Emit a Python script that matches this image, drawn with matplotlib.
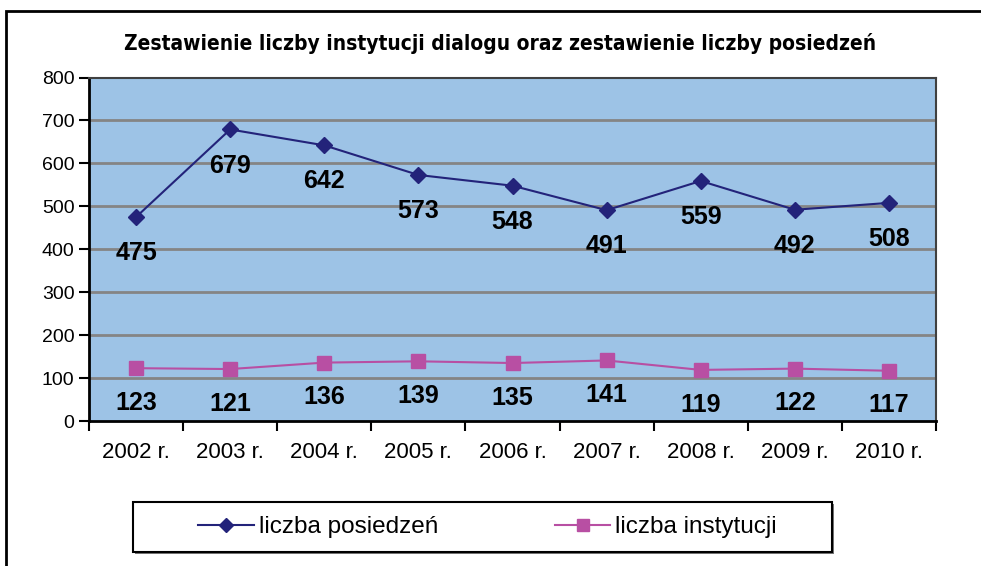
import matplotlib
matplotlib.use("Agg")
import matplotlib.pyplot as plt
from matplotlib.patches import Rectangle
from matplotlib.lines import Line2D

lata = ["2002 r.", "2003 r.", "2004 r.", "2005 r.", "2006 r.",
        "2007 r.", "2008 r.", "2009 r.", "2010 r."]
posiedzenia = [475, 679, 642, 573, 548, 491, 559, 492, 508]
instytucje = [123, 121, 136, 139, 135, 141, 119, 122, 117]

navy = "#23237a"
magenta = "#b84fa3"
W, H = 981, 566

plt.rcParams['font.family'] = ['Liberation Sans', 'DejaVu Sans']

fig = plt.figure(figsize=(W / 100, H / 100), dpi=100)
ax = fig.add_axes([89 / W, 1 - 421 / H, (936 - 89) / W, (421 - 77.5) / H])
ax.set_facecolor("#9dc3e6")

x = list(range(len(lata)))
ax.plot(x, posiedzenia, color=navy, lw=1.5, marker="D", ms=8, zorder=3)
ax.plot(x, instytucje, color=magenta, lw=1.5, marker="s", ms=9.5, zorder=3)

for xi, v in zip(x, posiedzenia):
    ax.annotate(str(v), (xi, v), xytext=(0, -26), textcoords="offset points",
                ha="center", va="center", fontsize=18, fontweight="bold")
for xi, v in zip(x, instytucje):
    ax.annotate(str(v), (xi, v), xytext=(0, -25), textcoords="offset points",
                ha="center", va="center", fontsize=18, fontweight="bold")

ax.set_ylim(0, 800)
ax.set_xlim(-0.5, len(lata) - 0.5)
ax.set_yticks(range(0, 801, 100))
ax.tick_params(axis="y", labelsize=14, length=7, width=1.5, direction="out")
for yv in range(100, 800, 100):
    ax.axhline(yv, color="#858585", lw=2, zorder=1)

ax.set_xticks([i - 0.5 for i in range(len(lata) + 1)])
ax.set_xticklabels([])
ax.set_xticks(x, minor=True)
ax.set_xticklabels(lata, minor=True)
ax.tick_params(axis="x", which="major", length=7, width=1.5, direction="out")
ax.tick_params(axis="x", which="minor", length=0, labelsize=16, pad=15)

ax.spines["left"].set_linewidth(2)
ax.spines["bottom"].set_linewidth(2)
ax.spines["top"].set_color("#404040")
ax.spines["right"].set_color("#404040")
ax.spines["top"].set_linewidth(1.5)
ax.spines["right"].set_linewidth(1.5)

fig.text(500 / W, 1 - 43 / H,
         "Zestawienie liczby instytucji dialogu oraz zestawienie liczby posiedzeń",
         ha="center", va="center", fontsize=15, fontweight="bold",
         family=["DejaVu Sans"], fontstretch="condensed")

# outer frame
fig.patches.append(Rectangle((6 / W, -0.1), 1.1, 1 - 11 / H + 0.1,
                             transform=fig.transFigure, fill=False,
                             edgecolor="black", lw=2))
# legend box
fig.patches.append(Rectangle((135 / W, 1 - 554 / H), 699 / W, 50 / H,
                             transform=fig.transFigure, facecolor="#777777",
                             edgecolor="none", zorder=1))
fig.patches.append(Rectangle((133 / W, 1 - 552 / H), 699 / W, 50 / H,
                             transform=fig.transFigure, facecolor="white",
                             edgecolor="black", lw=1.5, zorder=2))

handles = [Line2D([], [], color=navy, lw=1.5, marker="D", ms=7),
           Line2D([], [], color=magenta, lw=1.5, marker="s", ms=8.5)]
fig.legend(handles, ["liczba posiedzeń", "liczba instytucji"], ncol=2,
           loc="center left", bbox_to_anchor=(176 / W, 1 - 527 / H),
           frameon=False, fontsize=17.5, handlelength=2.3, handletextpad=0.2,
           columnspacing=4.8, borderpad=0.4)

fig.savefig("out.png", dpi=100)
